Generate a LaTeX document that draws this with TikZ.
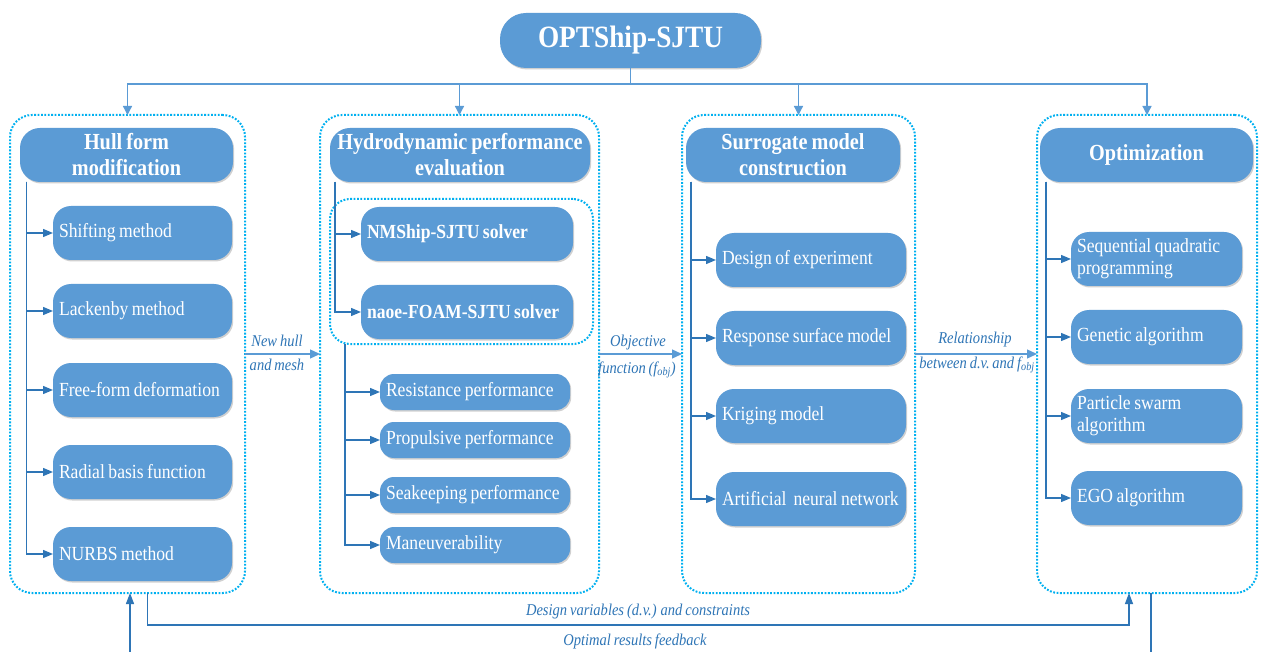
\documentclass[tikz,border=0pt]{standalone}
\usepackage{fontspec}
\setmainfont{Liberation Serif}[FakeStretch=0.88,WordSpace={0.8,0,0}]
\usetikzlibrary{arrows.meta,shadows}
\definecolor{boxblue}{HTML}{5B9BD5}
\definecolor{cont}{HTML}{00B0F0}
\definecolor{conn}{HTML}{5B9BD5}
\definecolor{brc}{HTML}{2E75B6}
\definecolor{lab}{HTML}{2E75B6}
\begin{document}
\begin{tikzpicture}[x=1pt,y=-1pt,
 every node/.style={inner sep=0pt,outer sep=0pt,execute at begin node={\spaceskip=0pt\relax\xspaceskip=0pt\relax}},
 sh/.style={drop shadow={shadow xshift=1.2pt,shadow yshift=-1.5pt,opacity=0.3,fill=black!60}},
 topbox/.style={sh,fill=boxblue,rounded corners=26pt,minimum width=261pt,minimum height=55pt,text=white,font=\fontsize{31}{33}\selectfont\bfseries},
 dotline/.style={draw=cont,line width=2pt,dash pattern=on 1.8pt off 1.6pt},
 contbox/.style={dotline,rounded corners=22pt,minimum height=478pt},
 hdr/.style={sh,fill=boxblue,rounded corners=20pt,minimum height=54pt,text=white,align=center,font=\fontsize{23}{26}\selectfont\bfseries},
 itm/.style={sh,fill=boxblue,rounded corners=18pt,minimum height=54pt,text=white,align=left,inner xsep=6pt,font=\fontsize{20}{22}\selectfont},
 smitm/.style={itm,rounded corners=14pt,minimum height=36pt},
 lbl/.style={text=lab,font=\fontsize{16.5}{18}\selectfont\itshape},
 toparr/.style={draw=conn,line width=1.3pt,-{Triangle[length=9pt,width=9pt]}},
 flow/.style={draw=conn,line width=1.3pt,-{Triangle[length=10pt,width=9pt]}},
 br/.style={draw=brc,line width=1.3pt,-{Triangle[length=10pt,width=8pt]}},
 bot/.style={draw=brc,line width=1.3pt,-{Triangle[length=11pt,width=8pt]}}
]
\fill[white] (0,0) rectangle (1261,652);
\useasboundingbox (0,0) rectangle (1261,652);

% title
\node[topbox] (top) at (630.5,40.5) {OPTShip-SJTU};
\coordinate (bus) at (0,84);

% containers
\node[contbox,minimum width=235pt] (C1) at (127.5,354) {};
\node[contbox,minimum width=279pt] (C2) at (459.5,354) {};
\node[contbox,minimum width=233pt] (C3) at (798.5,354) {};
\node[contbox,minimum width=220pt] (C4) at (1147,354) {};

% headers
\node[hdr,minimum width=213pt] (H1) at (126.5,155) {Hull form\\modification};
\node[hdr,minimum width=260pt] (H2) at (460,155) {Hydrodynamic performance\\evaluation};
\node[hdr,minimum width=214pt] (H3) at (793,155) {Surrogate model\\construction};
\node[hdr,minimum width=213pt] (H4) at (1146.5,155) {Optimization};

% column 1
\node[itm,text width=167pt] (a1) at (142.5,233) {Shifting method};
\node[itm,text width=167pt] (a2) at (142.5,311) {Lackenby method};
\node[itm,text width=167pt] (a3) at (142.5,390) {Free-form deformation};
\node[itm,text width=167pt] (a4) at (142.5,472) {Radial basis function};
\node[itm,text width=167pt] (a5) at (142.5,554) {NURBS method};

% column 2
\node[dotline,rounded corners=20pt,minimum width=263pt,minimum height=145pt] (I2) at (461.5,271.5) {};
\node[itm,text width=200pt,font=\fontsize{20}{22}\selectfont\bfseries] (b1) at (467,234) {NMShip-SJTU solver};
\node[itm,text width=200pt,font=\fontsize{20}{22}\selectfont\bfseries] (b2) at (467,312) {naoe-FOAM-SJTU solver};
\node[smitm,text width=178pt] (r1) at (475,392) {Resistance performance};
\node[smitm,text width=178pt] (r2) at (475,440) {Propulsive performance};
\node[smitm,text width=178pt] (r3) at (475,495) {Seakeeping performance};
\node[smitm,text width=178pt] (r4) at (475,545) {Maneuverability};

% column 3
\node[itm,text width=178pt] (s1) at (811,260) {Design of experiment};
\node[itm,text width=178pt] (s2) at (811,338) {Response surface model};
\node[itm,text width=178pt] (s3) at (811,416) {Kriging model};
\node[itm,text width=178pt] (s4) at (811,499) {\mbox{Artificial\ \ neural network}};

% column 4
\node[itm,text width=159pt] (o1) at (1156.5,259) {Sequential quadratic\\programming};
\node[itm,text width=159pt] (o2) at (1156.5,337) {Genetic algorithm};
\node[itm,text width=159pt] (o3) at (1156.5,416) {Particle swarm\\algorithm};
\node[itm,text width=159pt] (o4) at (1156.5,498) {EGO algorithm};

% top arrows
\draw[toparr] (top.south) -- (top.south |- bus) -| (C1.north);
\draw[toparr] (top.south) -- (top.south |- bus) -| (C2.north);
\draw[toparr] (top.south) -- (top.south |- bus) -| (C3.north);
\draw[toparr] (top.south) -- (top.south |- bus) -| (C4.north);

% branches
\foreach \n in {a1,a2,a3,a4,a5} \draw[br] ([xshift=6.5pt]H1.south west) |- (\n.west);
\foreach \n in {b1,b2} \draw[br] ([xshift=5pt]H2.south west) |- (\n.west);
\foreach \n in {r1,r2,r3,r4} \draw[br] ([xshift=15pt]I2.south west) |- (\n.west);
\foreach \n in {s1,s2,s3,s4} \draw[br] ([xshift=5pt]H3.south west) |- (\n.west);
\foreach \n in {o1,o2,o3,o4} \draw[br] ([xshift=6pt]H4.south west) |- (\n.west);

% flow arrows
\draw[flow] (C1.east) -- (C2.west);
\draw[flow] (C2.east) -- (C3.west);
\draw[flow] (C3.east) -- (C4.west);
\node[lbl] (l1a) at (277,341) {New hull};
\node[lbl] (l1b) at (277,365) {and mesh};
\node[lbl] (l2a) at (638,343) {Objective};
\node[lbl] (l2b) at (637,370) {function\,(f\textsubscript{obj})};
\node[lbl] (l3a) at (975,340) {Relationship};
\node[lbl] (l3b) at (977,365) {between d.v.\,and f\textsubscript{obj}};

% bottom loops
\draw[bot] ([xshift=20pt]C1.south) -- ++(0,32) -| ([xshift=-18pt]C4.south);
\draw[bot] ([xshift=4pt]C4.south) -- ++(0,80) -| ([xshift=2.5pt]C1.south);
\node[lbl] (dv) at (638,612) {Design variables (d.v.) and constraints};
\node[lbl] (fb) at (635,641) {Optimal results feedback};
\end{tikzpicture}
\end{document}
